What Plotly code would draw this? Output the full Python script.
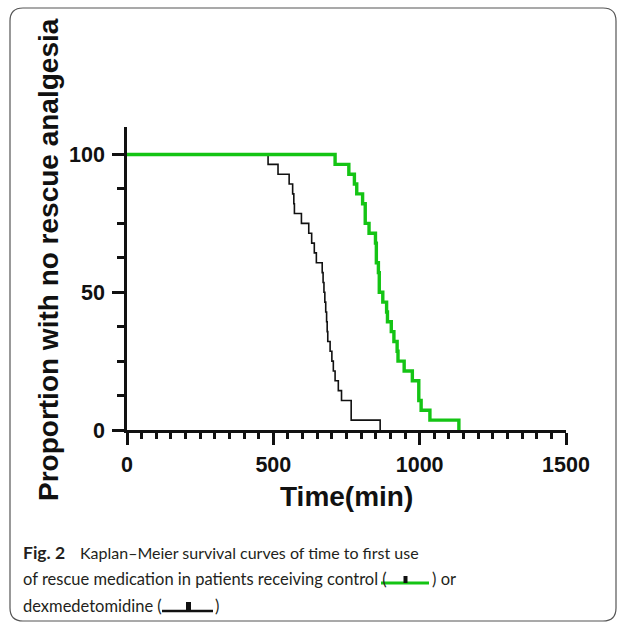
import plotly.graph_objects as go

# ---- data (event times, minutes) ----
group_names = ["dexmedetomidine", "control"]
dex_times = [482, 516, 554, 566, 570, 572, 596, 621, 631, 640, 647,
             667, 670, 673, 676, 679, 682, 684, 686,
             694, 700, 705, 711, 722, 733, 766, 766, 865]
ctrl_times = [711, 758, 777, 785, 805, 814, 814, 827, 849, 852, 852,
              859, 862, 862, 874, 887, 890, 903, 912, 923, 926,
              947, 975, 997, 997, 1005, 1035, 1134]
x_ticks = [0, 500, 1000, 1500]
y_ticks = [0, 50, 100]


def km(times):
    n = len(times)
    xs, ys = [0], [100.0]
    for k, t in enumerate(sorted(times), start=1):
        xs.append(t)
        ys.append(100.0 * (n - k) / n)
    return xs, ys


W, H = 627, 624
L, R, T, B = 127, 566, 127, 430  # plot area in px


def px(x):
    return (x - L) / (R - L)


def py(y):
    return (B - y) / (B - T)


fig = go.Figure()
bx, by = km(dex_times)
gx, gy = km(ctrl_times)
fig.add_trace(go.Scatter(x=bx, y=by, mode="lines", name=group_names[0],
                         line=dict(shape="hv", color="#111111", width=1.6)))
fig.add_trace(go.Scatter(x=gx, y=gy, mode="lines", name=group_names[1],
                         line=dict(shape="hv", color="#14c414", width=3.4)))

tickfont = dict(family="Liberation Sans, Arial", size=21.5, color="#111", weight="bold")
fig.update_xaxes(range=[0, 1500], tickvals=x_ticks, ticks="outside", ticklen=12,
                 tickwidth=2.5, tickcolor="#111", showline=True, linewidth=2.5,
                 linecolor="#111", showgrid=False, zeroline=False, tickfont=tickfont,
                 ticklabelstandoff=1,
                 minor=dict(dtick=50, ticks="outside", ticklen=6, tickwidth=2.5,
                            tickcolor="#111", showgrid=False))
fig.update_yaxes(range=[0, 110], tickvals=y_ticks, ticks="outside", ticklen=12,
                 tickwidth=2.5, tickcolor="#111", showline=True, linewidth=2.5,
                 linecolor="#111", showgrid=False, zeroline=False, tickfont=tickfont,
                 ticklabelstandoff=3,
                 minor=dict(dtick=12.5, ticks="outside", ticklen=7, tickwidth=2.5,
                            tickcolor="#111", showgrid=False))

title_font = dict(family="Liberation Sans, Arial", size=28, color="#111", weight="bold")
cap_font = dict(family="Lato", size=16.5, color="#231f20")
cap_bold = dict(family="Lato", size=17.5, color="#231f20", weight="bold")
annotations = [
    dict(text="Time(min)", x=px(346), y=py(497), font=title_font,
         xanchor="center", yanchor="middle"),
    dict(text="Proportion with no rescue analgesia", x=px(48), y=py(260),
         textangle=-90, font=title_font, xanchor="center", yanchor="middle"),
    dict(text="Fig. 2", x=px(21), y=py(552), font=cap_bold,
         xanchor="left", yanchor="middle"),
    dict(text="Kaplan\u2013Meier survival curves of time to first use", x=px(78), y=py(552),
         font=dict(cap_font, size=16), xanchor="left", yanchor="middle"),
    dict(text="of rescue medication in patients receiving control (", x=px(21), y=py(579),
         font=cap_font, xanchor="left", yanchor="middle"),
    dict(text=") or", x=px(430), y=py(579), font=cap_font, xanchor="left", yanchor="middle"),
    dict(text="dexmedetomidine (", x=px(21), y=py(606), font=cap_font,
         xanchor="left", yanchor="middle"),
    dict(text=")", x=px(213), y=py(606), font=cap_font, xanchor="left", yanchor="middle"),
]
for a in annotations:
    a.update(xref="paper", yref="paper", showarrow=False)


def rrect(x0, y0, x1, y1, r):
    pts = (f"M {px(x0 + r)},{py(y0)} L {px(x1 - r)},{py(y0)} "
           f"Q {px(x1)},{py(y0)} {px(x1)},{py(y0 + r)} L {px(x1)},{py(y1 - r)} "
           f"Q {px(x1)},{py(y1)} {px(x1 - r)},{py(y1)} L {px(x0 + r)},{py(y1)} "
           f"Q {px(x0)},{py(y1)} {px(x0)},{py(y1 - r)} L {px(x0)},{py(y0 + r)} "
           f"Q {px(x0)},{py(y0)} {px(x0 + r)},{py(y0)} Z")
    return pts


shapes = [
    dict(type="path", path=rrect(10, 8, 616, 621, 13), line=dict(color="#555", width=1.2)),
    # legend glyphs in caption
    dict(type="line", x0=px(381), x1=px(429), y0=py(583), y1=py(583),
         line=dict(color="#14c414", width=3)),
    dict(type="rect", x0=px(403.5), x1=px(407.5), y0=py(576), y1=py(583),
         line=dict(width=0), fillcolor="#111"),
    dict(type="line", x0=px(162), x1=px(213), y0=py(611), y1=py(611),
         line=dict(color="#111", width=2.5)),
    dict(type="rect", x0=px(186), x1=px(191), y0=py(602), y1=py(611),
         line=dict(width=0), fillcolor="#111"),
]
for s in shapes:
    s.update(xref="paper", yref="paper")

fig.update_layout(width=W, height=H, margin=dict(l=L, r=W - R, t=T, b=H - B),
                  plot_bgcolor="white", paper_bgcolor="white", showlegend=False,
                  annotations=annotations, shapes=shapes)
fig.write_html("out.html")
